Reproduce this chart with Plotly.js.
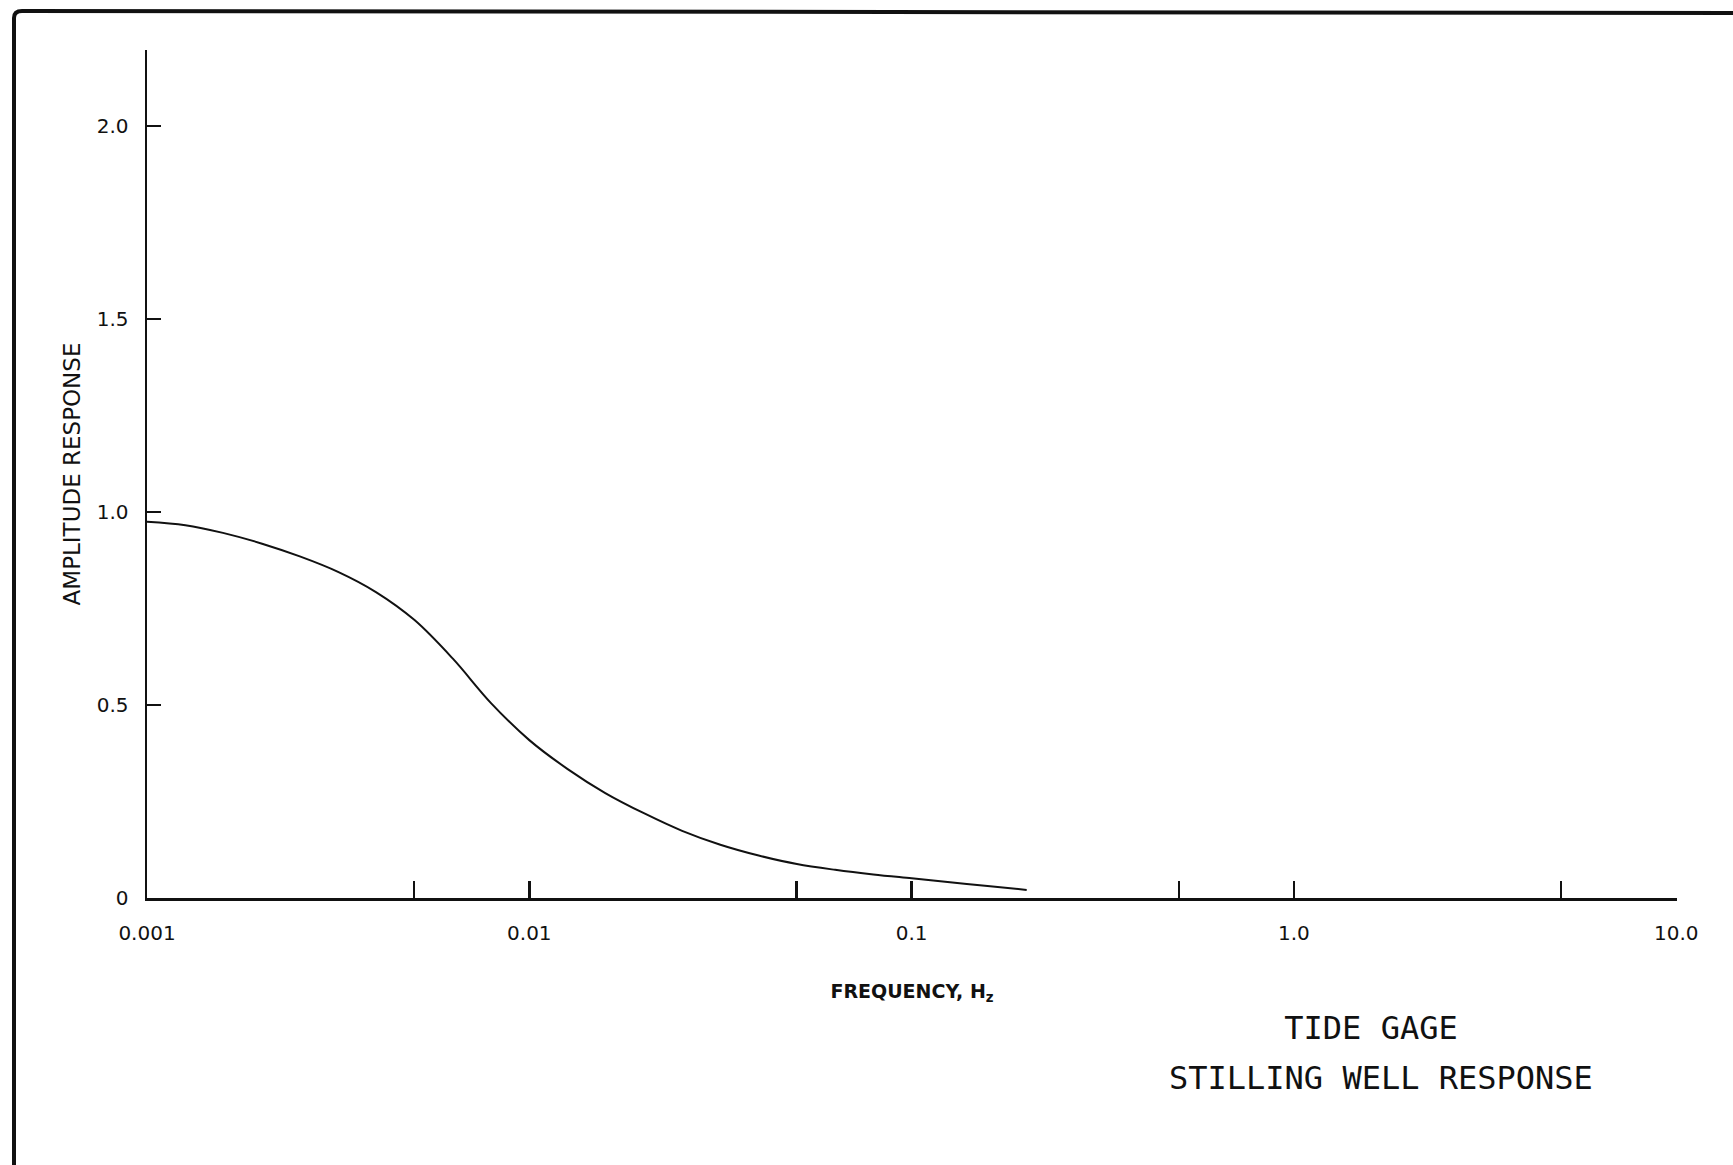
<!DOCTYPE html>
<html>
<head>
<meta charset="utf-8">
<script src="https://cdn.plot.ly/plotly-3.0.1.min.js"></script>
<style>
  html, body { margin: 0; padding: 0; background: #ffffff; }
  #chart { width: 1733px; height: 1165px; }
</style>
</head>
<body>
<div id="chart"></div>
<script>
// Frequency (Hz) and amplitude response (every 0.1 decade)
const frequency = [0.001, 0.00126, 0.00158, 0.002, 0.00251, 0.00316, 0.00398, 0.00501, 0.00631, 0.00794, 0.01, 0.0126, 0.0158, 0.02, 0.0251, 0.0316, 0.0398, 0.0501, 0.0631, 0.0794, 0.1, 0.126, 0.158, 0.2];
const amplitude = [0.975, 0.966, 0.946, 0.918, 0.885, 0.845, 0.792, 0.720, 0.620, 0.505, 0.409, 0.334, 0.272, 0.219, 0.174, 0.138, 0.110, 0.088, 0.073, 0.061, 0.051, 0.041, 0.031, 0.021];

// Tick positions and labels
const xTickVals = [0.001, 0.01, 0.1, 1, 10];
const xTickText = ['0.001', '0.01', '0.1', '1.0', '10.0'];
const xMinorTickVals = [0.005, 0.05, 0.5, 5];
const yTickVals = [0, 0.5, 1.0, 1.5, 2.0];
const yTickText = ['0', '0.5', '1.0', '1.5', '2.0'];

const titleLine1 = 'TIDE GAGE';
const titleLine2 = 'STILLING WELL RESPONSE';
const xTitle = 'FREQUENCY, H<sub>z</sub>';
const yTitle = 'AMPLITUDE RESPONSE';

const trace = {
  x: frequency,
  y: amplitude,
  type: 'scatter',
  mode: 'lines',
  line: { color: '#111111', width: 2, shape: 'spline', smoothing: 1.0 },
  hoverinfo: 'skip',
  showlegend: false
};

const W = 1733, H = 1165;
const L = 147, R = 56, T = 50, B = 267;
const pw = W - L - R, ph = H - T - B;
function px(xp) { return (xp - L) / pw; }
function py(yp) { return (H - B - yp) / ph; }

const titleFont = { family: 'DejaVu Sans Mono, Liberation Mono, monospace', size: 32, color: '#111111' };

const layout = {
  width: W,
  height: H,
  paper_bgcolor: '#ffffff',
  plot_bgcolor: '#ffffff',
  margin: { l: L, r: R, t: T, b: B },
  font: { family: 'DejaVu Sans, sans-serif', color: '#111111' },
  title: {
    text: titleLine1,
    x: 1371 / W,
    y: 1 - 1028 / H,
    xref: 'container',
    yref: 'container',
    xanchor: 'center',
    yanchor: 'middle',
    font: titleFont
  },
  annotations: [
    {
      text: titleLine2,
      xref: 'paper', yref: 'paper',
      x: px(1381), y: py(1078),
      xanchor: 'center', yanchor: 'middle',
      showarrow: false,
      font: titleFont
    }
  ],
  xaxis: {
    type: 'log',
    range: [-3, 1.002],
    tickmode: 'array',
    tickvals: xTickVals,
    ticktext: xTickText,
    ticks: 'inside',
    ticklen: 17,
    tickwidth: 2.5,
    tickcolor: '#111111',
    minor: {
      tickmode: 'array',
      tickvals: xMinorTickVals,
      ticks: 'inside',
      ticklen: 17,
      tickwidth: 2.5,
      tickcolor: '#111111',
      showgrid: false
    },
    ticklabelstandoff: 15,
    tickfont: { family: 'DejaVu Sans, sans-serif', size: 20, color: '#111111' },
    showline: true,
    linecolor: '#111111',
    linewidth: 3,
    showgrid: false,
    zeroline: false,
    title: {
      text: xTitle,
      standoff: 41,
      font: { family: 'DejaVu Sans, sans-serif', size: 19, color: '#111111', weight: 'bold' }
    }
  },
  yaxis: {
    range: [0, 2.197],
    tickmode: 'array',
    tickvals: yTickVals,
    ticktext: yTickText,
    ticks: 'inside',
    ticklen: 14,
    tickwidth: 2.5,
    tickcolor: '#111111',
    ticklabelstandoff: 12,
    tickfont: { family: 'DejaVu Sans, sans-serif', size: 20, color: '#111111' },
    showline: true,
    linecolor: '#111111',
    linewidth: 2.5,
    showgrid: false,
    zeroline: false,
    title: {
      text: yTitle,
      standoff: 10,
      font: { family: 'DejaVu Sans, sans-serif', size: 23, color: '#111111' }
    }
  },
  shapes: [
    {
      type: 'path',
      xref: 'paper', yref: 'paper',
      path: 'M ' + px(14) + ',' + py(1175) + ' L ' + px(14) + ',' + py(18) +
            ' Q ' + px(14) + ',' + py(11) + ' ' + px(22) + ',' + py(11) +
            ' L ' + px(1740) + ',' + py(13),
      line: { color: '#111111', width: 4 }
    }
  ]
};

Plotly.newPlot('chart', [trace], layout, { displayModeBar: false, staticPlot: true });
</script>
</body>
</html>
